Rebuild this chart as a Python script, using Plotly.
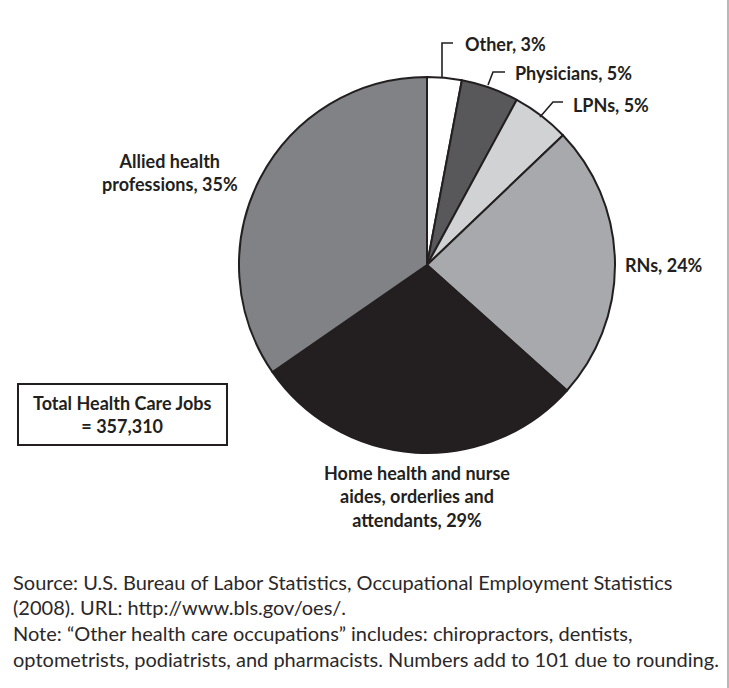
import plotly.graph_objects as go

W, H = 729, 688

categories = ["Other", "Physicians", "LPNs", "RNs",
              "Home health and nurse aides, orderlies and attendants",
              "Allied health professions"]
values = [3, 5, 5, 24, 29, 35]
colors = ["#ffffff", "#58585a", "#d1d2d4", "#a7a9ac", "#231f20", "#808285"]

label_texts = ["Other, 3%", "Physicians, 5%", "LPNs, 5%", "RNs, 24%",
               "Home health and nurse<br>aides, orderlies and<br>attendants, 29%",
               "Allied health<br>professions, 35%"]

total_text = "Total Health Care Jobs<br>= 357,310"
source_lines = [
    "Source: U.S. Bureau of Labor Statistics, Occupational Employment Statistics",
    "(2008). URL: http://www.bls.gov/oes/.",
    "Note: \u201cOther health care occupations\u201d includes: chiropractors, dentists,",
    "optometrists, podiatrists, and pharmacists. Numbers add to 101 due to rounding.",
]


def px(x):
    return x / W


def py(y):
    return 1 - y / H


cx, cy, r = 427, 265, 188

fig = go.Figure(go.Pie(
    labels=categories, values=values, sort=False, direction="clockwise",
    rotation=0, textinfo="none", hoverinfo="label+value",
    marker=dict(colors=colors, line=dict(color="#231f20", width=2)),
    domain=dict(x=[px(cx - r), px(cx + r)], y=[py(cy + r), py(cy - r)]),
    showlegend=False,
))

lab_font = dict(family="Lato", size=18, color="#231f20", weight="bold")

# label positions (pixels): x, y, xanchor
label_pos = [
    (463, 44, "left"),
    (513, 73, "left"),
    (571, 105, "left"),
    (623, 265, "left"),
    (417, 497, "center"),
    (170, 172, "center"),
]
annotations = []
for t, (x, y, xa) in zip(label_texts, label_pos):
    annotations.append(dict(
        text=t, x=px(x), y=py(y), xref="paper", yref="paper",
        xanchor=xa, yanchor="middle", showarrow=False, align="center",
        font=lab_font))

annotations.append(dict(
    text=total_text, x=px(122), y=py(414), xref="paper", yref="paper",
    xanchor="center", yanchor="middle", showarrow=False, align="center",
    font=lab_font))

src_y = [582, 607, 633, 659]
for t, y in zip(source_lines, src_y):
    annotations.append(dict(
        text=t, x=px(11), y=py(y), xref="paper", yref="paper",
        xanchor="left", yanchor="middle", showarrow=False, align="left",
        font=dict(family="Lato", size=20, color="#2b2829")))

leaders = [
    [(442, 77), (442, 43), (453, 43)],
    [(488, 85), (493, 72), (505, 72)],
    [(540, 117), (553, 102), (563, 102)],
]
shapes = []
for pts in leaders:
    path = "M " + " L ".join(f"{px(x)},{py(y)}" for x, y in pts)
    shapes.append(dict(type="path", path=path, xref="paper", yref="paper",
                       line=dict(color="#231f20", width=1.6)))

shapes.append(dict(type="rect", x0=px(18), x1=px(227), y0=py(445), y1=py(384),
                   xref="paper", yref="paper",
                   line=dict(color="#231f20", width=2), fillcolor="white"))
shapes.append(dict(type="line", x0=px(728), x1=px(728), y0=0, y1=1,
                   xref="paper", yref="paper",
                   line=dict(color="#a0a0a0", width=1.5)))

fig.update_layout(
    width=W, height=H, margin=dict(l=0, r=0, t=0, b=0),
    paper_bgcolor="white", plot_bgcolor="white",
    annotations=annotations, shapes=shapes,
)

fig.write_html("out.html", config={"displayModeBar": False},
               post_script="document.body.style.margin='0px';document.body.style.padding='0px';")
